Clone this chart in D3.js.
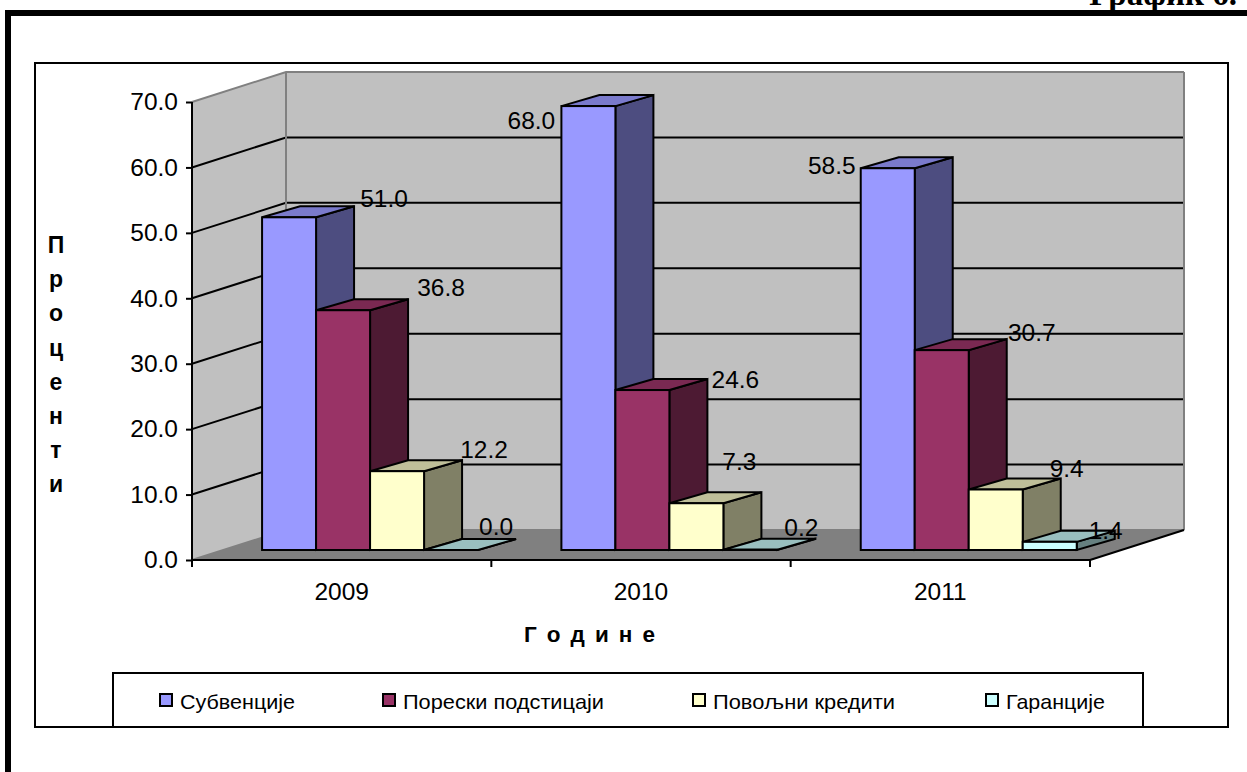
<!DOCTYPE html>
<html><head><meta charset="utf-8">
<style>html,body{margin:0;padding:0;background:#fff}svg{display:block}text{font-family:"Liberation Sans",Arial,sans-serif;fill:#000}</style>
<script src="https://cdn.jsdelivr.net/npm/d3@7"></script></head><body><script>
const categories = ["2009","2010","2011"];
const seriesNames = ["Субвенције","Порески подстицаји","Повољни кредити","Гаранције"];
const subsidies = [51.0,68.0,58.5];
const taxIncentives = [36.8,24.6,30.7];
const softLoans = [12.2,7.3,9.4];
const guarantees = [0.0,0.2,1.4];
const seriesValues = [subsidies,taxIncentives,softLoans,guarantees];
const yTicks = [0,10,20,30,40,50,60,70];
const yTitle = "Проценти";
const xTitle = "Г о д и н е";
const figureLabel = "График 6.";

const frontColors = ["#9999ff","#993366","#ffffcc","#ccffff"];
const sideColors  = ["#4d4d80","#4d1a33","#808066","#668080"];
const topColors   = ["#7a7acc","#7a2952","#bfbf99","#99bfbf"];
// hand-placed data label offsets from the back top corner of each bar [series][category]
const labelNudge = [
 [[30,-7],[-122,26],[-121,9]],
 [[33,-11],[28,1],[25,-6]],
 [[22,-10],[-22,-30],[6,-9]],
 [[-20,-13],[-14,-11],[-9,0]]
];

const W=1247,H=772;
const svg=d3.select("body").append("svg").attr("width",W).attr("height",H);
const x=d3.scaleBand().domain(categories).range([192,1090]);
const y=d3.scaleLinear().domain([0,70]).range([560,102]);
const wall={dx:94,dy:-30}, plane={dx:28.4,dy:-10}, bar={dx:38,dy:-11};
const groupW=216, topInset=1;
const x1=d3.scaleBand().domain(d3.range(seriesNames.length)).range([0,groupW]);
const pts=a=>a.map(p=>p.join(",")).join(" ");

// frame
svg.append("path").attr("d",`M8,${H} V13 H${W}`).attr("fill","none").attr("stroke","#000").attr("stroke-width",6);
svg.append("text").attr("x",1237).attr("y",5).attr("text-anchor","end")
  .style("font-family",'"Liberation Serif",serif').style("font-weight","bold").style("font-size","33px").text(figureLabel);
svg.append("rect").attr("x",35).attr("y",63).attr("width",1193).attr("height",664).attr("fill","#fff").attr("stroke","#000").attr("stroke-width",2);

// walls and floor
const x0=x.range()[0],x9=x.range()[1],y0=y(0),yT=y(70);
svg.append("polygon").attr("points",pts([[x0,y0],[x0+wall.dx,y0+wall.dy],[x0+wall.dx,yT+wall.dy],[x0,yT]])).attr("fill","#c0c0c0");
svg.append("rect").attr("x",x0+wall.dx).attr("y",yT+wall.dy).attr("width",x9-x0).attr("height",y0-yT).attr("fill","#c0c0c0");
svg.append("polygon").attr("points",pts([[x0,y0],[x0+wall.dx,y0+wall.dy],[x9+wall.dx,y0+wall.dy],[x9,y0]])).attr("fill","#808080");

// gridlines
yTicks.forEach(t=>{
  const yy=y(t), c=(t===70||t===0)?"#808080":"#000";
  svg.append("polyline").attr("fill","none").attr("stroke",c).attr("stroke-width",2)
    .attr("points",pts([[x0,yy],[x0+wall.dx,yy+wall.dy],[x9+wall.dx,yy+wall.dy]]));
});
svg.append("line").attr("x1",x0+wall.dx).attr("x2",x0+wall.dx).attr("y1",yT+wall.dy).attr("y2",y0+wall.dy).attr("stroke","#808080").attr("stroke-width",2);
svg.append("line").attr("x1",x9+wall.dx).attr("x2",x9+wall.dx).attr("y1",yT+wall.dy).attr("y2",y0+wall.dy).attr("stroke","#808080").attr("stroke-width",2);
svg.append("line").attr("x1",x9).attr("x2",x9+wall.dx).attr("y1",y0).attr("y2",y0+wall.dy).attr("stroke","#000").attr("stroke-width",2);

// bars
const outline=g=>g.attr("stroke","#000").attr("stroke-width",2).attr("stroke-linejoin","miter");
const labels=[];
categories.forEach((cat,ci)=>{
  const gx=x(cat)+(x.bandwidth()-groupW)/2+plane.dx;
  seriesNames.forEach((s,si)=>{
    const v=seriesValues[si][ci];
    const l=gx+x1(si), r=l+x1.bandwidth();
    const b=y(0)+plane.dy, t=Math.min(b,y(v)+plane.dy+topInset);
    svg.append("polygon").call(outline).attr("fill",sideColors[si])
      .attr("points",pts([[r,t],[r+bar.dx,t+bar.dy],[r+bar.dx,b+bar.dy],[r,b]]));
    svg.append("polygon").call(outline).attr("fill",topColors[si])
      .attr("points",pts([[l,t],[l+bar.dx,t+bar.dy],[r+bar.dx,t+bar.dy],[r,t]]));
    svg.append("rect").call(outline).attr("fill",frontColors[si])
      .attr("x",l).attr("y",t).attr("width",r-l).attr("height",b-t);
    labels.push({v,cx:r+bar.dx+labelNudge[si][ci][0],cy:y(v)+plane.dy+bar.dy+labelNudge[si][ci][1]});
  });
});

// axes
const fs="24.5px";
const yAxis=d3.axisLeft(y).tickValues(yTicks).tickSize(6).tickPadding(8).tickFormat(d3.format(".1f"));
const yg=svg.append("g").attr("transform",`translate(${x0},0)`).call(yAxis);
yg.selectAll("text").style("font-size",fs);
yg.selectAll("line,path").attr("stroke","#000").attr("stroke-width",2);
yg.select("path").attr("d",`M0,${yT}V${y0}`);
const xg=svg.append("g").attr("transform",`translate(0,${y0})`);
xg.append("line").attr("x1",x0).attr("x2",x9).attr("stroke","#000").attr("stroke-width",2);
d3.range(categories.length+1).forEach(i=>{
  const tx=x0+i*x.step();
  xg.append("line").attr("x1",tx).attr("x2",tx).attr("y1",0).attr("y2",7).attr("stroke","#000").attr("stroke-width",2);
});
categories.forEach(c=>{
  xg.append("text").attr("x",x(c)+x.bandwidth()/2).attr("y",40).attr("text-anchor","middle").style("font-size",fs).text(c);
});

// data labels
svg.append("g").selectAll("text").data(labels).join("text")
  .attr("x",d=>d.cx).attr("y",d=>d.cy).attr("text-anchor","middle").attr("dy","0.36em")
  .style("font-size",fs).text(d=>d.v.toFixed(1));

// titles
const yLetters=Array.from(yTitle);
svg.append("g").selectAll("text").data(yLetters).join("text")
  .attr("x",56).attr("y",(d,i)=>253+i*34.2).attr("text-anchor","middle")
  .style("font-size","23px").style("font-weight","bold").text(d=>d);
svg.append("text").attr("x",524).attr("y",642).style("font-size","22.5px").style("font-weight","bold")
  .attr("textLength",131).text(xTitle);

// legend
svg.append("rect").attr("x",113).attr("y",673).attr("width",1030).attr("height",54).attr("fill","#fff").attr("stroke","#000").attr("stroke-width",2);
const legX=[159,382,692,985], legW=[115,201,182,99];
seriesNames.forEach((s,i)=>{
  svg.append("rect").attr("x",legX[i]+1).attr("y",694).attr("width",12).attr("height",12).attr("fill",frontColors[i]).attr("stroke","#000").attr("stroke-width",2);
  svg.append("text").attr("x",legX[i]+21).attr("y",708.5).style("font-size","21px")
    .attr("textLength",legW[i]).attr("lengthAdjust","spacingAndGlyphs").text(s);
});
</script></body></html>
